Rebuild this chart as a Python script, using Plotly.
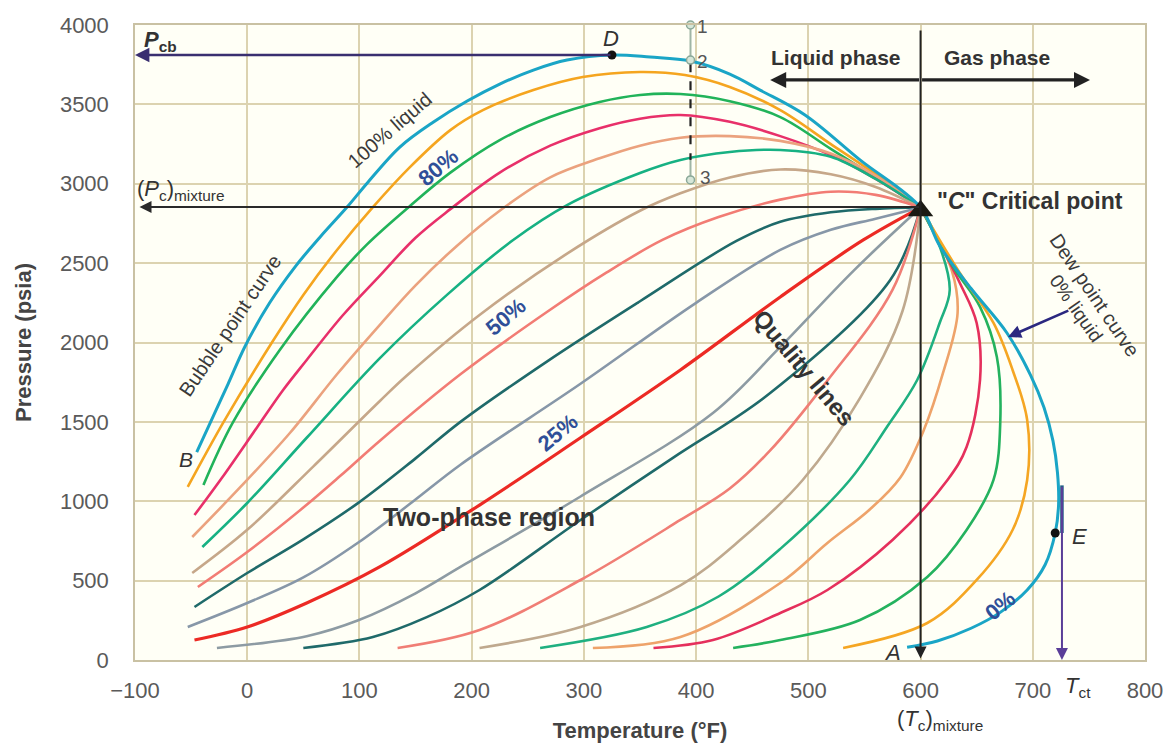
import plotly.graph_objects as go

# ---------------- data ----------------
X_TICKS = [-100, 0, 100, 200, 300, 400, 500, 600, 700, 800]
Y_TICKS = [0, 500, 1000, 1500, 2000, 2500, 3000, 3500, 4000]

# phase envelope: bubble point curve (100% liquid) -> C -> dew point curve (0% liquid)
env_T = [-45, -33, -17, -2, 20, 43, 65, 89, 107, 136, 166, 196, 225, 255, 285, 325, 359, 395, 430, 457, 497, 546, 600,
         617, 645, 677, 698, 710, 718, 722, 723, 720, 711, 695, 671, 645, 615, 588]
env_P = [1310, 1493, 1740, 1975, 2250, 2480, 2665, 2853, 3005, 3231, 3389, 3521, 3628, 3716, 3779, 3811, 3798, 3773, 3691, 3590, 3433, 3150, 2850,
         2610, 2340, 2060, 1795, 1590, 1380, 1180, 980, 800, 600, 441, 300, 200, 120, 80]

# quality lines (from bubble side to dew side), all meeting at the critical point
q01_T = [-53, -21, 22, 50, 80, 112, 145, 181, 210, 255, 299, 350, 390, 430, 475, 520, 560, 600]
q01_P = [1090, 1500, 2000, 2300, 2583, 2853, 3105, 3338, 3464, 3590, 3672, 3704, 3685, 3610, 3464, 3250, 3060, 2850]
q02_T = [-39, -13, 29, 80, 107, 145, 181, 225, 270, 314, 350, 386, 430, 475, 520, 560, 600]
q02_P = [1102, 1493, 1953, 2413, 2620, 2860, 3070, 3275, 3420, 3515, 3559, 3565, 3520, 3420, 3220, 3040, 2850]
q03_T = [-47, -22, 9, 32, 53, 85, 118, 150, 181, 225, 270, 314, 350, 386, 430, 475, 520, 560, 600]
q03_P = [913, 1153, 1468, 1701, 1890, 2170, 2420, 2660, 2840, 3070, 3240, 3350, 3410, 3433, 3390, 3300, 3180, 3030, 2850]
q04_T = [-49, -6, 38, 80, 118, 150, 187, 225, 270, 314, 350, 386, 430, 475, 520, 560, 600]
q04_P = [775, 1090, 1430, 1800, 2110, 2360, 2610, 2830, 3040, 3160, 3240, 3290, 3300, 3270, 3190, 3050, 2850]
q05_T = [-40, 0, 53, 118, 178, 237, 285, 350, 386, 430, 475, 520, 560, 600]
q05_P = [712, 989, 1400, 1900, 2300, 2646, 2866, 3068, 3150, 3200, 3213, 3170, 3030, 2850]
q06_T = [-49, 0, 59, 118, 142, 207, 285, 350, 386, 430, 475, 520, 560, 600]
q06_P = [548, 820, 1220, 1630, 1790, 2173, 2560, 2830, 2940, 3040, 3090, 3060, 2980, 2850]
q07_T = [-44, 0, 50, 83, 118, 190, 267, 320, 370, 420, 475, 520, 560, 600]
q07_P = [460, 680, 960, 1160, 1380, 1800, 2192, 2440, 2646, 2790, 2900, 2950, 2930, 2850]
q08_T = [-47, 0, 50, 99, 150, 190, 267, 350, 436, 475, 520, 560, 600]
q08_P = [334, 548, 760, 990, 1270, 1500, 1880, 2260, 2640, 2760, 2820, 2842, 2850]
q09_T = [-53, 0, 50, 99, 148, 190, 297, 400, 475, 520, 560, 600]
q09_P = [208, 359, 520, 740, 1000, 1230, 1740, 2250, 2583, 2710, 2780, 2850]
q10_T = [-47, 0, 53, 118, 207, 297, 386, 475, 549, 600]
q10_P = [126, 208, 359, 586, 976, 1400, 1827, 2287, 2646, 2850]
q11_T = [-27, 53, 99, 150, 190, 297, 415, 475, 540, 600]
q11_P = [76, 150, 250, 420, 586, 1030, 1556, 1972, 2450, 2850]
q12_T = [50, 112, 160, 207, 297, 379, 466, 573, 600]
q12_P = [76, 145, 270, 441, 882, 1272, 1682, 2394, 2850]
q13_T = [134, 207, 297, 386, 430, 466, 517, 575, 600]
q13_P = [76, 189, 504, 882, 1080, 1320, 1760, 2331, 2850]
q14_T = [207, 297, 386, 440, 495, 546, 584, 600]
q14_P = [76, 208, 470, 760, 1134, 1650, 2200, 2850]
q15_T = [261, 356, 420, 475, 537, 570, 597, 617, 626, 615, 600]
q15_P = [76, 208, 400, 700, 1134, 1468, 1764, 2123, 2331, 2646, 2850]
q16_T = [308, 386, 475, 517, 555, 582, 603, 620, 633, 628, 600]
q16_P = [76, 145, 485, 737, 950, 1150, 1450, 1808, 2186, 2450, 2850]
q17_T = [362, 415, 475, 517, 575, 624, 641, 653, 650, 635, 600]
q17_P = [76, 126, 296, 441, 756, 1134, 1342, 1764, 2123, 2375, 2850]
q18_T = [433, 475, 546, 606, 641, 665, 671, 668, 653, 629, 600]
q18_P = [76, 126, 252, 523, 819, 1134, 1493, 1909, 2224, 2476, 2850]
q19_T = [531, 606, 650, 682, 695, 695, 682, 665, 635, 600]
q19_P = [76, 233, 504, 819, 1134, 1512, 1827, 2123, 2438, 2850]

# special points
crit_T, crit_P = [600], [2830]          # "C" critical point
pcb_T, pcb_P = [325], [3811]            # D, cricondenbar
pc_P = 2853                             # (Pc)mixture
tct_T, tct_P = [720], [800]             # E, near cricondentherm
tct_line_T = 726
path_T = [395, 395, 395]                # isothermal path points 1, 2, 3
path_P = [4000, 3779, 3024]
path_labels = ["1", "2", "3"]

# ---------------- styles ----------------
line_colors = [
    "#f5a51f", "#21b35a", "#e8306a", "#eba27e", "#17b183", "#c6a789", "#f27c74", "#1f6a6a", "#8797a8",
    "#ec2a24",
    "#8d9ba3", "#1f6a6a", "#f07e75", "#bfa98e", "#1fb080", "#eea36a", "#e5305c", "#24b25e", "#f5a623",
]
series = [(q01_T, q01_P), (q02_T, q02_P), (q03_T, q03_P), (q04_T, q04_P), (q05_T, q05_P), (q06_T, q06_P),
          (q07_T, q07_P), (q08_T, q08_P), (q09_T, q09_P), (q10_T, q10_P), (q11_T, q11_P), (q12_T, q12_P),
          (q13_T, q13_P), (q14_T, q14_P), (q15_T, q15_P), (q16_T, q16_P), (q17_T, q17_P), (q18_T, q18_P),
          (q19_T, q19_P)]

fig = go.Figure()
for i, (tx, py) in enumerate(series):
    fig.add_trace(go.Scatter(x=tx, y=py, mode="lines",
                             line=dict(color=line_colors[i], width=3.2 if i == 9 else 2.6,
                                       shape="spline", smoothing=1.0),
                             hoverinfo="skip"))

fig.add_trace(go.Scatter(x=env_T, y=env_P, mode="lines",
                         line=dict(color="#1aa5c6", width=3, shape="spline", smoothing=1.0),
                         hoverinfo="skip"))

# isothermal path 1-2-3
fig.add_trace(go.Scatter(x=[path_T[0], path_T[1]], y=[path_P[0], path_P[1]], mode="lines",
                         line=dict(color="#9fb5a5", width=2), hoverinfo="skip"))
fig.add_trace(go.Scatter(x=[path_T[1], path_T[1]], y=[path_P[1] - 20, 3150], mode="lines",
                         line=dict(color="#222222", width=2.2, dash="dash"), hoverinfo="skip"))
fig.add_trace(go.Scatter(x=[path_T[2], path_T[2]], y=[3150, path_P[2]], mode="lines",
                         line=dict(color="#9fb5a5", width=2), hoverinfo="skip"))
fig.add_trace(go.Scatter(x=path_T, y=path_P, mode="markers", cliponaxis=False,
                         marker=dict(size=8, color="#d6e6d8", line=dict(color="#8aa898", width=1.5)),
                         hoverinfo="skip"))

# Tct dark segment
fig.add_trace(go.Scatter(x=[tct_line_T, tct_line_T], y=[1100, tct_P[0]], mode="lines",
                         line=dict(color="#245f86", width=3.5), hoverinfo="skip"))

# points D, E and C
fig.add_trace(go.Scatter(x=pcb_T + tct_T, y=pcb_P + tct_P, mode="markers",
                         marker=dict(size=9, color="#111111"), hoverinfo="skip"))
fig.add_trace(go.Scatter(x=crit_T, y=crit_P, mode="markers",
                         marker=dict(size=22, symbol="triangle-up", color="#1b1b14"), hoverinfo="skip"))

# ---------------- arrows ----------------
def arrow(x, y, ax, ay, color, width=2.0, size=1.2):
    fig.add_annotation(x=x, y=y, ax=ax, ay=ay, xref="x", yref="y", axref="x", ayref="y",
                       text="", showarrow=True, arrowhead=2, arrowsize=size, arrowwidth=width,
                       arrowcolor=color, standoff=0, startstandoff=0)

arrow(-100, pcb_P[0], pcb_T[0], pcb_P[0], "#3a2f70", 2.4)
arrow(-96, pc_P, 600, pc_P, "#2a2a2a", 2.0)
arrow(600, 10, 600, 3975, "#222222", 2.0)
arrow(466, 3654, 600, 3654, "#222222", 3.2, 1.0)
arrow(751, 3654, 600, 3654, "#222222", 3.2, 1.0)
arrow(tct_line_T, 0, tct_line_T, 1100, "#5a3e98", 2.0)
arrow(678, 2035, 733, 2205, "#2b2880", 2.6, 1.0)

# ---------------- texts ----------------
FONT = "Liberation Sans, Arial, sans-serif"

def label(x, y, text, size=22, color="#333333", angle=0, xanchor="center", yanchor="middle", yref="y"):
    fig.add_annotation(x=x, y=y, xref="x", yref=yref, text=text, showarrow=False,
                       textangle=angle, xanchor=xanchor, yanchor=yanchor,
                       font=dict(family=FONT, size=size, color=color))

BLUE = "#2f4f98"
label(-77, 3899, "<b><i>P</i></b><b><sub>cb</sub></b>", 22)
label(324, 3912, "<i>D</i>", 22)
label(-100, 2961, "(<i>P</i><sub>c</sub>)<sub>mixture</sub>", 22, xanchor="left")
label(127, 3339, "100% liquid", 20, "#3a3a3a", -41)
label(170, 3105, "<b>80%</b>", 22, BLUE, -40)
label(-15, 2110, "Bubble point curve", 20, "#3a3a3a", -56)
label(-55, 1260, "<i>B</i>", 21)
label(231, 2161, "<b>50%</b>", 22, BLUE, -40)
label(277, 1430, "<b>25%</b>", 22, BLUE, -40)
label(497, 1839, "<b>Quality lines</b>", 24, "#333333", 50)
label(215, 900, "<b>Two-phase region</b>", 25, "#333333")
label(613, 2891, "<b>\"<i>C</i>\" Critical point</b>", 23, "#333333", xanchor="left")
label(525, 3798, "<b>Liquid phase</b>", 21, "#333333")
label(668, 3798, "<b>Gas phase</b>", 21, "#333333")
label(755, 2299, "Dew point curve", 20, "#3a3a3a", 56)
label(739, 2217, "0% liquid", 19, "#3a3a3a", 55)
label(742, 781, "<i>E</i>", 22)
label(671, 346, "<b>0%</b>", 22, BLUE, -40)
label(575, 50, "<i>A</i>", 22)
label(740, -0.043, "<i>T</i><sub>ct</sub>", 22, yref="paper")
label(577, -0.095, "(<i>T</i><sub>c</sub>)<sub>mixture</sub>", 22, xanchor="left", yref="paper")
label(406, 3990, "1", 19, "#555555")
label(406, 3767, "2", 19, "#555555")
label(408, 3040, "3", 19, "#555555")

# ---------------- layout ----------------
fig.update_layout(
    width=1169, height=745,
    margin=dict(l=135, r=24, t=25, b=85, autoexpand=False),
    paper_bgcolor="white", plot_bgcolor="#fffff6",
    showlegend=False,
    font=dict(family=FONT, color="#555555"),
    xaxis=dict(range=[-100, 800], tickvals=X_TICKS, ticktext=[("−100" if v < 0 else str(v)) for v in X_TICKS],
               automargin=False,
               showgrid=True, gridcolor="#dcd3b0", gridwidth=2, zeroline=False,
               showline=True, linecolor="#c9c1a3", linewidth=1.5, mirror=True,
               ticks="outside", ticklen=10, tickcolor="rgba(0,0,0,0)",
               tickfont=dict(size=22, color="#5a5a5a"),
               title=dict(text="<b>Temperature (°F)</b>", font=dict(size=22, color="#444444"), standoff=20)),
    yaxis=dict(range=[0, 4000], tickvals=Y_TICKS, automargin=False,
               showgrid=True, gridcolor="#dcd3b0", gridwidth=2, zeroline=False,
               showline=True, linecolor="#c9c1a3", linewidth=1.5, mirror=True,
               ticks="outside", ticklen=20, tickcolor="rgba(0,0,0,0)",
               tickfont=dict(size=22, color="#5a5a5a"),
               title=dict(text="<b>Pressure (psia)</b>", font=dict(size=22, color="#444444"), standoff=22)),
)

fig.write_html("out.html")
